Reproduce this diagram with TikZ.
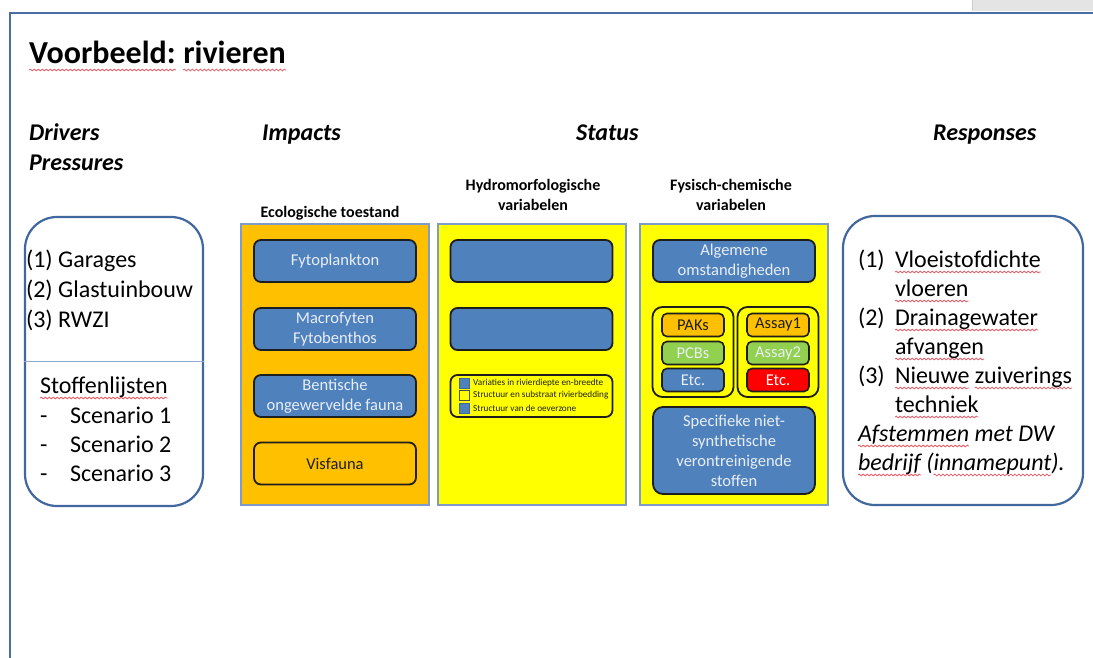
\documentclass[tikz,border=0pt]{standalone}
\usepackage{fontspec}
\setmainfont{Carlito}
\usetikzlibrary{decorations.pathmorphing}

\definecolor{frameblue}{HTML}{4A6EA0}
\definecolor{boxedge}{HTML}{41689E}
\definecolor{splitline}{HTML}{8FAAD3}
\definecolor{coledge}{HTML}{7F9CC6}
\definecolor{accblue}{HTML}{4F81BD}
\definecolor{accorange}{HTML}{FFC000}
\definecolor{accyellow}{HTML}{FFFF00}
\definecolor{accgreen}{HTML}{92D050}
\definecolor{accred}{HTML}{FF0000}
\definecolor{paletext}{HTML}{E8EEF7}
\definecolor{inkdark}{HTML}{1E1E1E}
\definecolor{spellred}{HTML}{E8606A}
\definecolor{tabgray}{HTML}{E4E4E4}

\newcommand\szTitle{\fontsize{32}{38}\selectfont}
\newcommand\szHead{\fontsize{24}{29}\selectfont}
\newcommand\szMain{\fontsize{24}{29}\selectfont}
\newcommand\szSub{\fontsize{16}{20}\selectfont}
\newcommand\szTile{\fontsize{16.5}{20}\selectfont}
\newcommand\szTiny{\fontsize{9.2}{12}\selectfont}

\tikzset{
  txt/.style={anchor=base west, inner sep=0pt, outer sep=0pt, font=\szMain},
  itxt/.style={txt, font=\szMain\itshape},
  head/.style={anchor=base west, inner sep=0pt, font=\szHead\bfseries\itshape},
  sub/.style={inner sep=0pt, font=\szSub\bfseries, align=center},
  roundbox/.style={draw=boxedge, line width=2.2pt, rounded corners=32pt},
  colbox/.style={draw=coledge, line width=1.5pt},
  tile/.style={draw=inkdark, line width=1.8pt, rounded corners=7pt, fill=accblue,
    minimum width=162pt, minimum height=42pt, inner sep=0pt, align=center,
    font=\szTile, text=paletext},
  chip/.style={draw=inkdark, line width=1.6pt, rounded corners=5pt, fill=accblue,
    minimum width=62pt, minimum height=23pt, inner sep=0pt, font=\szTile, text=paletext},
  group/.style={draw=inkdark, line width=1.8pt, rounded corners=10pt, fill=accyellow,
    minimum width=81pt, minimum height=90pt},
  legsq/.style={draw=boxedge, line width=1pt, fill=accblue, minimum size=10pt, inner sep=0pt},
  legtxt/.style={anchor=west, inner sep=0pt, font=\szTiny, text=inkdark},
  spell/.style={spellred, line width=0.8pt, decorate,
    decoration={snake, amplitude=0.9pt, segment length=4pt}},
}

\begin{document}
\begin{tikzpicture}[x=1pt,y=-1pt]
\useasboundingbox (0,0) rectangle (1093,658);
\fill[white] (0,0) rectangle (1093,658);

% window tab and slide frame
\fill[tabgray] (972,0) rectangle (1093,11);
\draw[gray!40, line width=1pt] (972,0) -- (972,11);
\draw[frameblue, line width=2.5pt] (1093,13) -- (10,13) -- (10,658);

% title and column headings
\node[anchor=base west, inner sep=0pt, font=\szTitle\bfseries] (title) at (29,64) {Voorbeeld:};
\node[anchor=base west, inner sep=0pt, font=\szTitle\bfseries] (title2) at ([xshift=7.2pt]title.base east) {rivieren};
\node[head] (drivers) at (29,141) {Drivers};
\node[head] (pressures) at (29,171) {Pressures};
\node[head] (impacts) at (262,141) {Impacts};
\node[head] (status) at (576,141) {Status};
\node[head] (responses) at (933,141) {Responses};

% drivers / pressures box
\node[roundbox, minimum width=178pt, minimum height=289pt] (drivebox) at (114,361.5) {};
\draw[splitline, line width=1.3pt] (drivebox.west) -- (drivebox.east);
\node[txt] (g1) at (26,267) {(1) Garages};
\node[txt] (g2) at (26,297) {(2) Glastuinbouw};
\node[txt] (g3) at (26,327) {(3) RWZI};
\node[txt] (st) at (40,393) {Stoffenlijsten};
\foreach \y/\n in {423/1,452/2,481/3}{
  \node[txt] (dash\n) at (40,\y) {-};
  \node[txt] (sc\n) at (70,\y) {Scenario \n};
}

% responses box
\node[roundbox, minimum width=240pt, minimum height=289pt] (respbox) at (963,360.5) {};
\node[txt] (r1) at (858,267) {(1)};
\node[txt] (r1a) at (895,267) {Vloeistofdichte};
\node[txt] (r1b) at (895,296) {vloeren};
\node[txt] (r2) at (858,325) {(2)};
\node[txt] (r2a) at (895,325) {Drainagewater};
\node[txt] (r2b) at (895,354) {afvangen};
\node[txt] (r3) at (858,383) {(3)};
\node[txt] (r3a) at (895,383) {Nieuwe};
\node[txt] (r3c) at ([xshift=5.4pt]r3a.base east) {zuiverings};
\node[txt] (r3b) at (895,412) {techniek};
\node[itxt] (r4a) at (858,441) {Afstemmen};
\node[itxt] (r4c) at ([xshift=5.4pt]r4a.base east) {met DW};
\node[itxt] (r4b) at (858,470) {bedrijf};
\node[itxt] (r4d) at ([xshift=5.4pt]r4b.base east) {(};
\node[itxt] (r4e) at (r4d.base east) {innamepunt};
\node[itxt] (r4f) at (r4e.base east) {).};

% spell-check marks under the flagged words
\foreach \w in {title,title2}
  \draw[spell] ([yshift=-6pt]\w.base west) -- ([yshift=-6pt]\w.base east);
\foreach \w in {st,r1a,r1b,r2a,r2b,r3a,r3c,r3b,r4a,r4b,r4e}
  \draw[spell] ([yshift=-5pt]\w.base west) -- ([yshift=-5pt]\w.base east);

% ecological status column
\node[sub, anchor=base] (ecohead) at (330,217) {Ecologische toestand};
\node[colbox, fill=accorange, minimum width=188pt, minimum height=281pt] (ecocol) at (335,364.5) {};
\node[tile] (fyto) at (335,261) {Fytoplankton};
\node[tile] (macro) at (335,329) {Macrofyten\\Fytobenthos};
\node[tile] (bent) at (335,396) {Bentische\\ongewervelde fauna};
\node[tile, fill=accorange, text=inkdark] (vis) at (335,463.5) {Visfauna};

% hydromorphological column
\node[sub, anchor=base] (hydhead1) at (533,191) {Hydromorfologische};
\node[sub, anchor=base] (hydhead2) at (533,211) {variabelen};
\node[colbox, fill=accyellow, minimum width=188pt, minimum height=281pt] (hydcol) at (532,364.5) {};
\node[tile] (hyd1) at (531.5,261) {};
\node[tile] (hyd2) at (531.5,329) {};
\node[tile, fill=accyellow] (legend) at (531.5,396) {};
\node[legsq] (lq1) at (464,383) {};
\node[legsq, fill=accyellow, draw=inkdark!80] (lq2) at (464,395.5) {};
\node[legsq] (lq3) at (464,408.5) {};
\node[legtxt] (lt1) at (473,383) {Variaties in rivierdiepte en-breedte};
\node[legtxt] (lt2) at (473,395.5) {Structuur en substraat rivierbedding};
\node[legtxt] (lt3) at (473,408) {Structuur van de oeverzone};

% physico-chemical column
\node[sub, anchor=base] (fyshead1) at (731,191) {Fysisch-chemische};
\node[sub, anchor=base] (fyshead2) at (731,211) {variabelen};
\node[colbox, fill=accyellow, minimum width=188pt, minimum height=281pt] (fyscol) at (734,364.5) {};
\node[tile] (alg) at (734,261) {Algemene\\omstandigheden};
\node[group] (grpL) at (693,352) {};
\node[group] (grpR) at (778,352) {};
\node[chip, fill=accorange, text=inkdark] (paks) at (693,325) {PAKs};
\node[chip, fill=accgreen] (pcbs) at (693,353) {PCBs};
\node[chip] (etcL) at (693,380) {Etc.};
\node[chip, fill=accorange, text=inkdark] (as1) at (778,325) {Assay1};
\node[chip, fill=accgreen] (as2) at (778,353) {Assay2};
\node[chip, fill=accred, text=white] (etcR) at (778,380) {Etc.};
\node[tile, minimum height=87pt, rounded corners=10pt] (spec) at (734,450.5)
  {Specifieke niet-\\synthetische\\verontreinigende\\stoffen};
\end{tikzpicture}
\end{document}
